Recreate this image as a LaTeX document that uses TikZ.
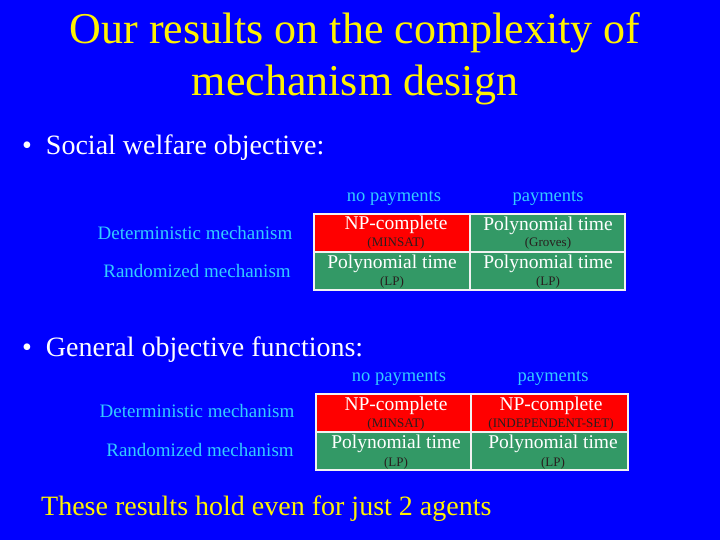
\documentclass[tikz,border=0pt]{standalone}
\usepackage{fontspec}
\setmainfont{Liberation Serif}
\begin{document}
\begin{tikzpicture}[x=1pt,y=-1pt,
  cellr/.style={draw=white!90!gray,line width=1.5pt,fill=red},
  cellg/.style={draw=white!90!gray,line width=1.5pt,fill={rgb,255:red,51;green,153;blue,102}},
  main/.style={text=white,font=\fontsize{19.5}{20}\selectfont,inner sep=0},
  sub/.style={text={rgb,255:red,40;green,30;blue,30},font=\fontsize{13}{14}\selectfont,inner sep=0},
  hdr/.style={text={rgb,255:red,51;green,204;blue,255},font=\fontsize{18.5}{19}\selectfont,inner sep=0},
  rowl/.style={text={rgb,255:red,51;green,204;blue,255},font=\fontsize{19}{20}\selectfont,inner sep=0},
  wtxt/.style={text=white,font=\fontsize{28}{30}\selectfont,inner sep=0,anchor=west}]
\fill[blue] (0,0) rectangle (720,540);
\useasboundingbox (0,0) rectangle (720,540);
\node[text=yellow,font=\fontsize{44}{52}\selectfont,align=center] (title) at (355,59) {Our results on the complexity of\\mechanism design};
\node[wtxt] (b1) at (22,148) {\textbullet\ \ Social welfare objective:};
\node[wtxt] (b2) at (22,350) {\textbullet\ \ General objective functions:};
% table 1
\node[rowl] (d1) at (195,233) {Deterministic mechanism};
\node[rowl] (r1) at (197,271) {Randomized mechanism};
\node[hdr] (h11) at (394,198) {no payments};
\node[hdr] (h12) at (548,198) {payments};
\path[cellr] (314,214) rectangle (470,252);
\path[cellg] (470,214) rectangle (625,252);
\path[cellg] (314,252) rectangle (470,290);
\path[cellg] (470,252) rectangle (625,290);
\node[main] (a1) at (396,225) {NP-complete};
\node[sub] (a1s) at (396,243) {(MINSAT)};
\node[main] (b1c) at (548,226) {Polynomial time};
\node[sub] (b1s) at (548,243) {(Groves)};
\node[main] (c1) at (392,264) {Polynomial time};
\node[sub] (c1s) at (392,282) {(LP)};
\node[main] (e1) at (548,264) {Polynomial time};
\node[sub] (e1s) at (548,282) {(LP)};
% table 2
\node[rowl] (d2) at (197,411) {Deterministic mechanism};
\node[rowl] (r2) at (200,450) {Randomized mechanism};
\node[hdr] (h21) at (399,378) {no payments};
\node[hdr] (h22) at (553,378) {payments};
\path[cellr] (316,394) rectangle (471,432);
\path[cellr] (471,394) rectangle (628,432);
\path[cellg] (316,432) rectangle (471,470);
\path[cellg] (471,432) rectangle (628,470);
\node[main] (a2) at (396,406) {NP-complete};
\node[sub] (a2s) at (396,424) {(MINSAT)};
\node[main] (b2c) at (551,406) {NP-complete};
\node[sub] (b2s) at (551,424) {(INDEPENDENT-SET)};
\node[main] (c2) at (396,444) {Polynomial time};
\node[sub] (c2s) at (396,463) {(LP)};
\node[main] (e2) at (553,444) {Polynomial time};
\node[sub] (e2s) at (553,463) {(LP)};
\node[text=yellow,font=\fontsize{28}{30}\selectfont,inner sep=0,anchor=west] (foot) at (41,509) {These results hold even for just 2 agents};
\end{tikzpicture}
\end{document}
